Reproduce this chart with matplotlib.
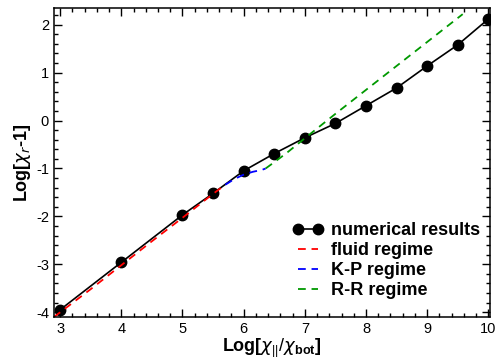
import matplotlib
matplotlib.use('Agg')
import matplotlib.pyplot as plt
from matplotlib.ticker import MultipleLocator

plt.rcParams['font.family'] = ['Liberation Sans', 'DejaVu Sans']
plt.rcParams['mathtext.fontset'] = 'custom'
plt.rcParams['mathtext.rm'] = 'Liberation Sans'
plt.rcParams['mathtext.bf'] = 'Liberation Sans:bold'
plt.rcParams['axes.unicode_minus'] = False

# 数值结果
num_x = [3, 4, 5, 5.5, 6, 6.5, 7, 7.5, 8, 8.5, 9, 9.5, 10]
num_y = [-3.95, -2.96, -1.97, -1.52, -1.05, -0.69, -0.36, -0.06, 0.31, 0.68, 1.14, 1.58, 2.12]

# 各区间的理论曲线
fluid_x = [2.9, 3.5, 4.0, 4.5, 5.0, 5.5, 5.7]
fluid_y = [-4.1, -3.52, -3.02, -2.52, -2.03, -1.53, -1.34]

kp_x = [5.7, 5.85, 6.0, 6.15, 6.3, 6.36]
kp_y = [-1.34, -1.22, -1.13, -1.07, -1.03, -1.0]

rr_x = [6.36, 6.5, 6.7, 7.0, 7.5, 8.0, 8.5, 9.0, 9.58]
rr_y = [-1.0, -0.87, -0.68, -0.37, 0.14, 0.64, 1.14, 1.64, 2.22]

fig = plt.figure(figsize=(4.98, 3.61), dpi=100)
ax = fig.add_axes([0.1084, 0.122, 0.876, 0.856])

ax.plot(num_x, num_y, color='black', lw=1.2, marker='o', ms=7.5,
        label='numerical results')
l1, = ax.plot(fluid_x, fluid_y, color='#ff0000', lw=1.3, label='fluid regime')
l2, = ax.plot(kp_x, kp_y, color='#0000ff', lw=1.3, label='K-P regime')
l3, = ax.plot(rr_x, rr_y, color='#009900', lw=1.3, label='R-R regime')
for l in (l1, l2, l3):
    l.set_dashes((4.3, 3.2))

ax.set_xlim(2.9, 10.03)
ax.set_ylim(-4.1, 2.35)
ax.xaxis.set_major_locator(MultipleLocator(1))
ax.xaxis.set_minor_locator(MultipleLocator(0.2))
ax.yaxis.set_major_locator(MultipleLocator(1))
ax.yaxis.set_minor_locator(MultipleLocator(0.2))
ax.tick_params(which='both', direction='in', top=True, right=True, width=1.0,
               labelsize=10.5)
ax.tick_params(which='major', length=6)
ax.tick_params(which='minor', length=3)
for s in ax.spines.values():
    s.set_linewidth(1.1)

ax.set_xlabel(r'Log[$\chi_{||}/\chi_{\mathbf{bot}}$]', fontsize=13,
              fontweight='bold', labelpad=1)
ax.set_ylabel(r'Log[$\chi_r$-1]', fontsize=13, fontweight='bold', labelpad=2)

leg = ax.legend(loc='lower left', bbox_to_anchor=(0.547, 0.058), frameon=False,
                borderpad=0, borderaxespad=0, labelspacing=0.17,
                handlelength=1.7, handletextpad=0.4, numpoints=2,
                prop={'weight': 'bold', 'size': 13})

fig.savefig('out.png', dpi=100)
